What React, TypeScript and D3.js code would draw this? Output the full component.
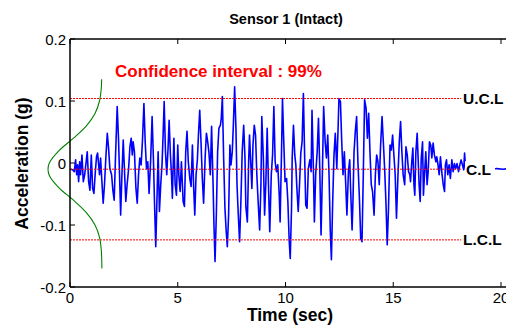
import React from 'react';
import * as d3 from 'd3';

// ---- data ----
const chartTitle = 'Sensor 1 (Intact)';
const xTicks = [0, 5, 10, 15, 20];
const yTicks = [-0.2, -0.1, 0, 0.1, 0.2];
const yTickLabels = ['-0.2', '-0.1', '0', '0.1', '0.2'];
const limitLabels = ['U.C.L', 'C.L', 'L.C.L'];
const limitValues = [0.104, -0.01, -0.124];

// fitted distribution drawn at the left (acceleration level -> time position)
const densityLevels = [0.135, 0.12, 0.1, 0.08, 0.06, 0.04, 0.02, 0.0, -0.01, -0.02, -0.04, -0.06, -0.08, -0.1, -0.12, -0.14, -0.17];
const densityTimes = [1.47, 1.45, 1.37, 1.16, 0.76, 0.16, -0.51, -0.96, -1.02, -0.96, -0.51, 0.16, 0.76, 1.16, 1.37, 1.45, 1.48];

// acceleration signal: [time (s), acceleration (g)]
const signal: [number, number][] = [
  [0, -0.01], [0.03, -0.01], [0.12, -0.011], [0.2, -0.014], [0.26, 0.005], [0.31, -0.019], [0.355, -0.003], [0.4, -0.03], [0.45, 0.002], [0.49, -0.019],
  [0.556, 0.013], [0.617, -0.03], [0.68, -0.019], [0.74, -0.001], [0.8, 0.018], [0.864, -0.03], [0.926, -0.044], [0.988, 0.013], [1.05, -0.041], [1.11, -0.049],
  [1.17, -0.017], [1.23, 0.01], [1.28, 0.016], [1.33, -0.003], [1.37, -0.019], [1.42, 0.008], [1.48, -0.03], [1.54, -0.065], [1.6, -0.035], [1.67, 0.013],
  [1.73, 0.048], [1.79, 0.024], [1.85, -0.009], [1.93, -0.019], [1.99, -0.044], [2.05, -0.06], [2.11, 0.008], [2.19, 0.091], [2.25, 0.04], [2.3, -0.019],
  [2.35, -0.084], [2.41, -0.019], [2.47, 0.037], [2.53, -0.014], [2.59, -0.062], [2.65, -0.035], [2.72, -0.009], [2.78, 0.026], [2.84, 0.04], [2.89, 0.013],
  [2.93, 0.034], [2.99, 0.018], [3.06, -0.041], [3.12, -0.065], [3.18, -0.019], [3.24, 0.008], [3.3, -0.003], [3.36, 0.034], [3.43, 0.096], [3.49, 0.034],
  [3.55, -0.009], [3.61, 0.002], [3.67, -0.049], [3.74, 0.002], [3.81, 0.075], [3.87, 0.008], [3.92, -0.062], [3.98, -0.135], [4.04, -0.052], [4.09, 0.018],
  [4.15, -0.078], [4.21, -0.035], [4.27, -0.003], [4.32, 0.045], [4.37, 0.099], [4.43, 0.018], [4.49, -0.019], [4.55, 0.024], [4.6, 0.069], [4.66, 0.013],
  [4.71, -0.019], [4.75, -0.057], [4.82, 0.04], [4.88, -0.035], [4.94, -0.052], [5.0, 0.029], [5.05, -0.019], [5.11, -0.046], [5.17, 0.002], [5.25, -0.062],
  [5.31, -0.07], [5.37, 0.018], [5.43, 0.051], [5.49, 0.002], [5.56, -0.025], [5.62, -0.038], [5.68, 0.029], [5.74, -0.041], [5.79, -0.084], [5.85, -0.019],
  [5.91, 0.005], [5.96, 0.045], [6.02, 0.085], [6.08, 0.034], [6.14, -0.025], [6.2, -0.065], [6.27, 0.008], [6.33, 0.048], [6.39, 0.034], [6.45, 0.016],
  [6.51, -0.019], [6.57, 0.059], [6.64, -0.035], [6.68, -0.1], [6.73, -0.159], [6.79, -0.084], [6.85, 0.018], [6.91, 0.056], [6.98, 0.061], [7.02, 0.072],
  [7.07, 0.107], [7.13, 0.008], [7.19, -0.073], [7.25, -0.111], [7.3, -0.135], [7.36, -0.084], [7.42, 0.029], [7.47, -0.003], [7.53, 0.018], [7.58, 0.061],
  [7.64, 0.123], [7.7, 0.056], [7.75, -0.035], [7.81, -0.084], [7.87, -0.127], [7.93, -0.062], [7.99, 0.018], [8.06, 0.061], [8.12, 0.008], [8.16, -0.07],
  [8.23, -0.095], [8.29, 0.002], [8.33, 0.045], [8.4, -0.009], [8.44, -0.041], [8.49, 0.029], [8.55, 0.061], [8.61, 0.045], [8.67, -0.019], [8.73, -0.062],
  [8.8, -0.108], [8.86, -0.035], [8.9, 0.075], [8.97, 0.01], [9.03, -0.084], [9.09, -0.03], [9.15, 0.056], [9.21, -0.035], [9.27, -0.111], [9.34, -0.019],
  [9.4, 0.013], [9.46, 0.091], [9.52, 0.002], [9.58, -0.014], [9.64, -0.003], [9.71, -0.052], [9.75, -0.095], [9.81, 0.008], [9.86, 0.104], [9.92, 0.034],
  [9.98, -0.03], [10.05, -0.025], [10.11, -0.062], [10.17, -0.124], [10.22, -0.154], [10.28, -0.073], [10.31, 0.008], [10.37, 0.061], [10.43, 0.013], [10.48, -0.003],
  [10.52, -0.035], [10.59, -0.078], [10.65, -0.035], [10.71, 0.016], [10.77, 0.034], [10.83, 0.112], [10.89, 0.008], [10.94, -0.068], [11.0, -0.073], [11.06, -0.009],
  [11.13, 0.005], [11.19, -0.014], [11.23, 0.085], [11.3, -0.019], [11.34, -0.095], [11.4, -0.019], [11.47, 0.018], [11.53, 0.072], [11.59, -0.009], [11.65, -0.116],
  [11.71, -0.019], [11.77, 0.091], [11.84, 0.034], [11.9, 0.008], [11.96, 0.045], [12.02, -0.019], [12.08, -0.111], [12.13, -0.156], [12.19, -0.062], [12.25, 0.013],
  [12.31, 0.048], [12.38, -0.009], [12.44, 0.056], [12.48, 0.104], [12.55, 0.099], [12.61, 0.034], [12.67, -0.019], [12.73, 0.018], [12.79, -0.03], [12.85, -0.084],
  [12.92, -0.014], [12.98, 0.005], [13.02, -0.041], [13.09, -0.108], [13.13, -0.062], [13.18, 0.018], [13.24, 0.051], [13.3, 0.075], [13.36, 0.002], [13.43, -0.057],
  [13.49, -0.122], [13.55, -0.127], [13.61, -0.019], [13.67, 0.102], [13.74, 0.088], [13.8, 0.04], [13.86, 0.08], [13.92, 0.018], [13.98, -0.035], [14.04, -0.046],
  [14.11, -0.084], [14.17, -0.019], [14.23, 0.013], [14.29, 0.002], [14.35, -0.035], [14.41, 0.026], [14.48, 0.075], [14.54, 0.034], [14.6, -0.009], [14.66, -0.062],
  [14.72, -0.132], [14.78, -0.073], [14.85, 0.029], [14.91, 0.021], [14.97, 0.045], [15.03, 0.013], [15.09, -0.019], [15.15, -0.089], [15.22, -0.019], [15.28, 0.034],
  [15.34, 0.067], [15.4, 0.018], [15.46, -0.019], [15.53, -0.035], [15.59, 0.026], [15.65, 0.013], [15.71, -0.014], [15.77, -0.019], [15.8, -0.03], [15.86, 0.002],
  [15.91, 0.024], [15.96, -0.035], [16.0, -0.052], [16.05, 0.018], [16.11, 0.048], [16.16, 0.002], [16.2, -0.035], [16.25, -0.062], [16.3, 0.008], [16.36, 0.034],
  [16.4, -0.052], [16.45, -0.019], [16.51, 0.018], [16.57, -0.035], [16.62, -0.014], [16.68, 0.034], [16.74, 0.029], [16.79, 0.008], [16.85, 0.032], [16.91, 0.013],
  [16.98, 0.002], [17.02, 0.01], [17.07, -0.001], [17.13, -0.019], [17.19, 0.01], [17.25, -0.014], [17.32, -0.035], [17.38, -0.046], [17.42, -0.003], [17.47, 0.005],
  [17.53, -0.019], [17.59, -0.003], [17.65, -0.025], [17.72, 0.005], [17.78, -0.014], [17.84, -0.001], [17.9, -0.009], [17.96, -0.001], [18.03, -0.014], [18.09, -0.003],
  [18.15, 0.005], [18.21, -0.003], [18.27, -0.011], [18.31, 0.016], [18.36, -0.01], [18.5, -0.006], [18.8, -0.012], [19.2, -0.008], [19.6, -0.01], [19.8, -0.009],
  [20.1, -0.01], [20.4, -0.009], [20.6, -0.01],
];

// ---- layout ----
const W = 506;
const H = 326;
const left = 70;
const top = 39;
const bottom = 287;
const font = "'Liberation Sans', Arial, Helvetica, sans-serif";

export default function App() {
  const x = d3.scaleLinear().domain([0, 20]).range([left, 501]);
  const y = d3.scaleLinear().domain([-0.2, 0.2]).range([bottom, top]);

  const sigLine = d3.line<[number, number]>().x(d => x(d[0])).y(d => y(d[1]));
  const densPts: [number, number][] = densityLevels.map((v, i) => [densityTimes[i], v]);
  const densLine = d3.line<[number, number]>().x(d => x(d[0])).y(d => y(d[1])).curve(d3.curveCatmullRom);

  const limitEnd = 18.15;

  return (
    <svg width={W} height={H} style={{ position: 'absolute', left: 0, top: 0, background: '#fff' }} fontFamily={font}>
      <rect x={0} y={0} width={W} height={H} fill="#fff" />
      {/* signal */}
      <path d={sigLine(signal) || ''} fill="none" stroke="#0000ff" strokeWidth={1.6} strokeLinejoin="round" />
      {/* control limit lines */}
      {limitValues.map((v, i) => (
        <line key={'l' + i} x1={x(0)} x2={x(limitEnd)} y1={y(v)} y2={y(v)} stroke="#ff0000" strokeWidth={1} strokeDasharray="2,1" />
      ))}
      {/* density curve */}
      <path d={densLine(densPts) || ''} fill="none" stroke="#008000" strokeWidth={1.1} />
      {/* axes box */}
      <line x1={left} x2={W} y1={top} y2={top} stroke="#000" strokeWidth={1.5} />
      <line x1={left} x2={W} y1={bottom} y2={bottom} stroke="#000" strokeWidth={1.5} />
      <line x1={left} x2={left} y1={top} y2={bottom} stroke="#000" strokeWidth={1.5} />
      {xTicks.map(t => (
        <g key={'xt' + t}>
          <line x1={x(t)} x2={x(t)} y1={bottom} y2={bottom - 5} stroke="#000" strokeWidth={1} />
          <line x1={x(t)} x2={x(t)} y1={top} y2={top + 5} stroke="#000" strokeWidth={1} />
          <text x={x(t)} y={303} fontSize={15} textAnchor="middle" fill="#000">{t}</text>
        </g>
      ))}
      {yTicks.map((t, i) => (
        <g key={'yt' + i}>
          <line x1={left} x2={left + 5} y1={y(t)} y2={y(t)} stroke="#000" strokeWidth={1} />
          <text x={66} y={y(t) + 5.5} fontSize={15} textAnchor="end" fill="#000">{yTickLabels[i]}</text>
        </g>
      ))}
      {/* limit labels */}
      {limitLabels.map((lab, i) => {
        const lx = i === 1 ? 466 : 463;
        return (
          <g key={'lab' + i}>
            <rect x={lx - 1} y={y(limitValues[i]) - 8} width={30 + (i === 1 ? 0 : 14)} height={17} fill="#fff" />
            <text x={lx} y={y(limitValues[i]) + 5.5} fontSize={15.5} fontWeight="bold" fill="#000">{lab}</text>
          </g>
        );
      })}
      {/* texts */}
      <text x={286} y={24} fontSize={14.5} fontWeight="bold" textAnchor="middle" fill="#000">{chartTitle}</text>
      <text x={115} y={77} fontSize={17} fontWeight="bold" fill="#ff0000">Confidence interval : 99%</text>
      <text x={290} y={321} fontSize={17.5} fontWeight="bold" textAnchor="middle" fill="#000">Time (sec)</text>
      <text transform="translate(28,163.5) rotate(-90)" fontSize={17.5} fontWeight="bold" textAnchor="middle" fill="#000">Acceleration (g)</text>
    </svg>
  );
}
